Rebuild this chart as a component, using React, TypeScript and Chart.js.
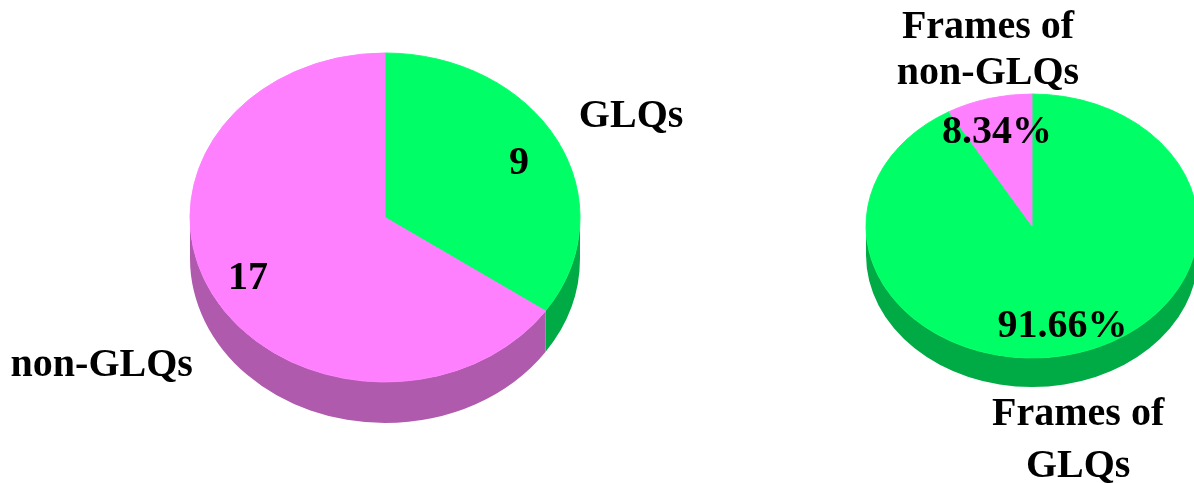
import React, { useEffect, useRef } from 'react';
import { Chart, registerables } from 'chart.js';

Chart.register(...registerables);

// ---- data ----
const LEFT_CATEGORIES = ['GLQs', 'non-GLQs'];
const LEFT_VALUES = [9, 17];
const RIGHT_CATEGORIES = ['Frames of\nGLQs', 'Frames of\nnon-GLQs'];
const RIGHT_VALUES = [91.66, 8.34];

// ---- styles ----
const TOP_COLORS = ['#00FF66', '#FF80FF'];
const SIDE_COLORS = ['#00AA44', '#B05AAE'];
const FONT = 'bold 40px "Liberation Serif", "Times New Roman", serif';
const CAP_HALF = 13;

type Place = { inF: number; inDA: number; outF: number; outDA: number; lh: number };

const LEFT_PLACES: Place[] = [
  { inF: 0.767, inDA: 1.3, outF: 1.41, outDA: 1.2, lh: 0 },
  { inF: 0.789, inDA: 0.7, outF: 1.7, outDA: -3.6, lh: 0 },
];
const RIGHT_PLACES: Place[] = [
  { inF: 0.765, inDA: 1.1, outF: 1.631, outDA: 5.2, lh: 51.5 },
  { inF: 0.757, inDA: -1.2, outF: 1.376, outDA: 3.9, lh: 46.5 },
];

interface PieCfg {
  categories: string[];
  values: number[];
  places: Place[];
  fmt: (v: number) => string;
  radius: number;
  ratio: number;
  depth: number;
  width: number;
  height: number;
  left: number;
  padding: { left: number; right: number; top: number; bottom: number };
}

const LEFT_CFG: PieCfg = {
  categories: LEFT_CATEGORIES,
  values: LEFT_VALUES,
  places: LEFT_PLACES,
  fmt: (v) => String(v),
  radius: 195,
  ratio: 0.8436,
  depth: 41,
  width: 720,
  height: 483,
  left: 0,
  padding: { left: 170, right: 120, top: 0, bottom: 48 },
};

const RIGHT_CFG: PieCfg = {
  categories: RIGHT_CATEGORIES,
  values: RIGHT_VALUES,
  places: RIGHT_PLACES,
  fmt: (v) => v.toFixed(2) + '%',
  radius: 166,
  ratio: 0.7952,
  depth: 29,
  width: 474,
  height: 483,
  left: 720,
  padding: { left: 150, right: 0, top: 0, bottom: 31 },
};

function make3dPlugin(cfg: PieCfg) {
  let saved = false;
  return {
    id: 'pie3d',
    beforeDatasetsDraw(chart: any) {
      const arcs = chart.getDatasetMeta(0).data;
      if (!arcs.length) return;
      const p0 = arcs[0].getProps(['x', 'y', 'outerRadius'], true);
      const cx = p0.x, cy = p0.y, R = p0.outerRadius;
      const ctx = chart.ctx;
      ctx.save();
      saved = true;
      ctx.translate(cx, cy);
      ctx.scale(1, cfg.ratio);
      ctx.translate(-cx, -cy);
      const D = cfg.depth / cfg.ratio;
      arcs.forEach((arc: any, i: number) => {
        const { startAngle, endAngle } = arc.getProps(['startAngle', 'endAngle'], true);
        for (const k of [-1, 0, 1]) {
          const lo = k * 2 * Math.PI;
          const hi = lo + Math.PI;
          const a = Math.max(startAngle, lo);
          const b = Math.min(endAngle, hi);
          if (b <= a) continue;
          ctx.beginPath();
          ctx.moveTo(cx + R * Math.cos(a), cy + R * Math.sin(a));
          ctx.arc(cx, cy, R, a, b);
          ctx.lineTo(cx + R * Math.cos(b), cy + D + R * Math.sin(b));
          ctx.arc(cx, cy + D, R, b, a, true);
          ctx.closePath();
          ctx.fillStyle = SIDE_COLORS[i];
          ctx.fill();
        }
      });
    },
    afterDatasetsDraw(chart: any) {
      const ctx = chart.ctx;
      if (saved) {
        ctx.restore();
        saved = false;
      }
      const arcs = chart.getDatasetMeta(0).data;
      if (!arcs.length) return;
      ctx.save();
      ctx.font = FONT;
      ctx.fillStyle = '#000';
      ctx.textAlign = 'center';
      ctx.textBaseline = 'alphabetic';
      arcs.forEach((arc: any, i: number) => {
        const p = arc.getProps(['x', 'y', 'startAngle', 'endAngle', 'outerRadius'], true);
        const mid = (p.startAngle + p.endAngle) / 2;
        const pl = cfg.places[i];
        const R = p.outerRadius;
        // inner value label
        const ai = mid + (pl.inDA * Math.PI) / 180;
        const ix = p.x + pl.inF * R * Math.cos(ai);
        const iy = p.y + pl.inF * R * cfg.ratio * Math.sin(ai);
        ctx.fillText(cfg.fmt(cfg.values[i]), ix, iy + CAP_HALF);
        // outer category label
        const ao = mid + (pl.outDA * Math.PI) / 180;
        const ox = p.x + pl.outF * R * Math.cos(ao);
        const oy = p.y + pl.outF * R * cfg.ratio * Math.sin(ao);
        const lines = cfg.categories[i].split('\n');
        lines.forEach((ln, j) => {
          const y = oy + (j - (lines.length - 1) / 2) * pl.lh;
          ctx.fillText(ln, ox, y + CAP_HALF);
        });
      });
      ctx.restore();
    },
  };
}

function Pie3D({ cfg }: { cfg: PieCfg }) {
  const ref = useRef<HTMLCanvasElement | null>(null);
  useEffect(() => {
    if (!ref.current) return;
    const chart = new Chart(ref.current, {
      type: 'pie',
      data: {
        labels: cfg.categories,
        datasets: [
          {
            data: cfg.values,
            backgroundColor: TOP_COLORS,
            borderColor: TOP_COLORS,
            borderWidth: 1,
            clip: false,
          } as any,
        ],
      },
      options: {
        responsive: false,
        animation: false,
        radius: cfg.radius,
        layout: { padding: cfg.padding },
        plugins: {
          legend: { display: false },
          tooltip: { enabled: false },
          title: { display: false },
        },
        events: [],
      } as any,
      plugins: [make3dPlugin(cfg) as any],
    });
    return () => chart.destroy();
  }, [cfg]);
  return (
    <canvas
      ref={ref}
      width={cfg.width}
      height={cfg.height}
      style={{ position: 'absolute', left: cfg.left, top: 0, width: cfg.width, height: cfg.height }}
    />
  );
}

export default function App() {
  return (
    <div
      style={{
        position: 'absolute',
        left: 0,
        top: 0,
        width: 1194,
        height: 483,
        background: '#fff',
        overflow: 'hidden',
      }}
    >
      <Pie3D cfg={LEFT_CFG} />
      <Pie3D cfg={RIGHT_CFG} />
    </div>
  );
}
